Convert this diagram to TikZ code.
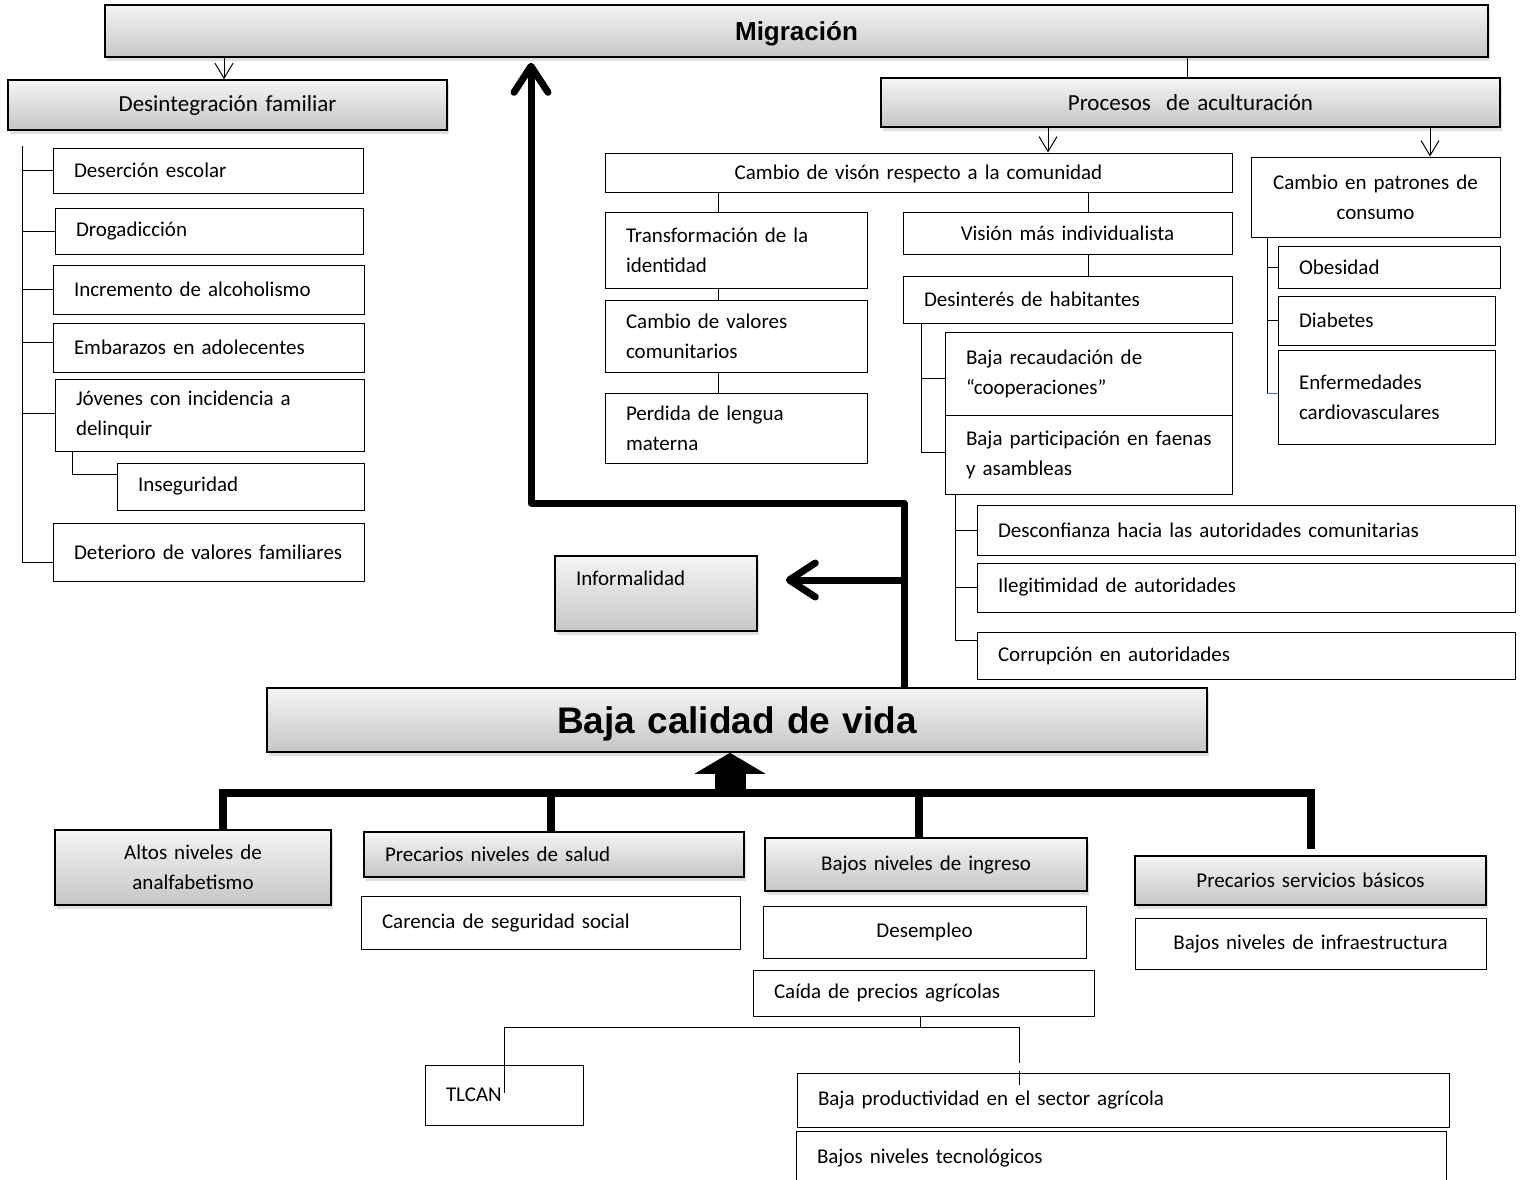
\documentclass[tikz,border=0pt]{standalone}
\usepackage{fontspec}
\setmainfont{Carlito}
\newfontfamily\arialfont{Liberation Sans}
\usetikzlibrary{arrows.meta,shadows,calc}

\newcommand\bx[8][21]{%
  \pgfmathsetmacro\bxw{#6-#4}%
  \pgfmathsetmacro\bxh{#7-#5}%
  \pgfmathsetmacro\bxt{#6-#4-2*#1}%
  \pgfmathsetmacro\bxcx{(#4+#6)/2}%
  \pgfmathsetmacro\bxcy{(#5+#7)/2}%
  \node[#3, inner xsep=#1pt, minimum width=\bxw pt, minimum height=\bxh pt, text width=\bxt pt] (#2) at (\bxcx,\bxcy) {#8};}

\tikzset{
  wbox/.style={draw=black, line width=1pt, fill=white, inner ysep=1pt,
    font=\fontsize{21}{30}\selectfont, align=left},
  gbox/.style={draw=black, line width=1.6pt, top color=gray!8, bottom color=gray!45,
    drop shadow={shadow xshift=1.5pt, shadow yshift=-4pt, opacity=0.25},
    inner ysep=1pt, font=\fontsize{21}{30}\selectfont, align=center},
  hbox/.style={gbox, font=\fontsize{23}{30}\selectfont},
  tbox/.style={gbox, text depth=0pt, font=\arialfont\bfseries\fontsize{26}{30}\selectfont},
  bigbox/.style={gbox, text depth=0pt, font=\arialfont\bfseries\fontsize{37}{40}\selectfont},
  cl/.style={line width=1pt, black},
  thinarrow/.style={cl, -{Straight Barb[length=15pt,width=18pt]}},
  bigarrow/.style={line width=7pt, line join=round, -{Straight Barb[length=26pt,width=34pt,round]}},
  bar/.style={line width=8pt, line join=miter}
}

\begin{document}
\begin{tikzpicture}[x=1pt,y=-1pt]
\useasboundingbox (0,0) rectangle (1523,1179);
\fill[white] (0,0) rectangle (1523,1179);

% top
\bx{mig}{tbox}{105}{5}{1488}{57}{Migración}
\bx{desf}{hbox}{8}{80}{447}{130}{Desintegración familiar}
\bx{proc}{hbox}{881}{78}{1500}{127}{Procesos\ \ de aculturación}

% left column
\bx{deser}{wbox}{53}{148}{363}{193}{Deserción escolar}
\bx{drog}{wbox}{55}{208}{363}{254}{Drogadicción}
\bx{alco}{wbox}{53}{265}{364}{314}{Incremento de alcoholismo}
\bx{emb}{wbox}{53}{323}{364}{372}{Embarazos en adolecentes}
\bx{jov}{wbox}{55}{379}{364}{451}{Jóvenes con incidencia a\\delinquir}
\bx{inseg}{wbox}{117}{463}{364}{510}{Inseguridad}
\bx{deter}{wbox}{53}{523}{364}{581}{Deterioro de valores familiares}

% cambio de vision
\bx{cvis}{wbox,align=center,text depth=0pt}{605}{153}{1232}{192}{Cambio de visón respecto a la comunidad}
\bx{trans}{wbox}{605}{212}{867}{288}{Transformación de la\\identidad}
\bx{valc}{wbox}{605}{300}{867}{372}{Cambio de valores\\comunitarios}
\bx{perd}{wbox}{605}{393}{867}{463}{Perdida de lengua\\materna}
\bx{indiv}{wbox,align=center}{903}{212}{1232}{254}{Visión más individualista}
\bx{desh}{wbox}{903}{276}{1232}{323}{Desinterés de habitantes}
\bx{recau}{wbox}{945}{332}{1232}{415}{Baja recaudación de\\“cooperaciones”}
\bx{parti}{wbox}{945}{415}{1232}{494}{\mbox{Baja participación en faenas}\\y asambleas}
\bx{desc}{wbox}{977}{505}{1515}{555}{Desconfianza hacia las autoridades comunitarias}
\bx{ileg}{wbox}{977}{563}{1515}{612}{Ilegitimidad de autoridades}
\bx{corr}{wbox}{977}{632}{1515}{679}{Corrupción en autoridades}

% patrones
\bx[8]{patr}{wbox,align=center}{1251}{157}{1500}{237}{Cambio en patrones de\\consumo}
\bx{obes}{wbox}{1278}{246}{1500}{288}{Obesidad}
\bx{diab}{wbox}{1278}{296}{1495}{345}{Diabetes}
\bx{enf}{wbox}{1278}{350}{1495}{444}{Enfermedades\\cardiovasculares}

% middle
\bx{info}{gbox,align=left}{555}{556}{757}{631}{Informalidad\\\mbox{}}
\bx[10]{bcv}{bigbox}{267}{688}{1207}{752}{Baja calidad de vida}

% bottom
\bx{altos}{gbox}{55}{830}{331}{905}{Altos niveles de\\analfabetismo}
\bx{psal}{gbox,align=left}{364}{832}{744}{877}{Precarios niveles de salud}
\bx{caren}{wbox}{361}{896}{740}{949}{Carencia de seguridad social}
\bx{bing}{gbox}{765}{838}{1087}{891}{Bajos niveles de ingreso}
\bx{desem}{wbox,align=center}{763}{906}{1086}{958}{Desempleo}
\bx{caida}{wbox}{753}{970}{1094}{1016}{Caída de precios agrícolas}
\bx{tlcan}{wbox}{425}{1065}{583}{1125}{TLCAN}
\bx{bprod}{wbox}{797}{1073}{1449}{1127}{Baja productividad en el sector agrícola}
\bx{btec}{wbox}{796}{1131}{1446}{1184}{Bajos niveles tecnológicos}
\bx{pserv}{gbox}{1135}{856}{1486}{905}{Precarios servicios básicos}
\bx{binf}{wbox,align=center}{1135}{918}{1486}{969}{Bajos niveles de infraestructura}

% --- connectors top
\coordinate (pa) at (224,0);
\coordinate (pb) at (1187,0);
\coordinate (pc) at (1048,0);
\coordinate (pd) at (1430,0);
\draw[thinarrow] (mig.south -| pa) -- (desf.north -| pa);
\draw[cl] (mig.south -| pb) -- (proc.north -| pb);
\draw[thinarrow] (proc.south -| pc) -- (cvis.north -| pc);
\draw[thinarrow] (proc.south -| pd) -- (patr.north -| pd);

% left bracket
\coordinate (lt) at (22,146);
\coordinate (lb) at (22,562);
\coordinate (le) at (22,342);
\coordinate (lj) at (22,413);
\draw[cl] (lt) -- (lb) -- (lb -| deter.west);
\draw[cl] (deser.west -| lt) -- (deser.west);
\draw[cl] (drog.west -| lt) -- (drog.west);
\draw[cl] (alco.west -| lt) -- (alco.west);
\draw[cl] (le) -- (le -| emb.west);
\draw[cl] (lj) -- (lj -| jov.west);
\coordinate (pj) at (72,474);
\draw[cl] (jov.south -| pj) -- (pj) -- (pj -| inseg.west);

% cambio de vision tree
\coordinate (pe) at (718,0);
\coordinate (pf) at (1088,0);
\draw[cl] (cvis.south -| pe) -- (trans.north -| pe);
\draw[cl] (trans.south -| pe) -- (valc.north -| pe);
\draw[cl] (valc.south -| pe) -- (perd.north -| pe);
\draw[cl] (cvis.south -| pf) -- (indiv.north -| pf);
\draw[cl] (indiv.south -| pf) -- (desh.north -| pf);
\coordinate (pg) at (921,452);
\coordinate (pg2) at (921,378);
\draw[cl] (desh.south -| pg) -- (pg) -- (pg -| parti.west);
\draw[cl] (pg2) -- (pg2 -| recau.west);
\coordinate (ph) at (955,640);
\draw[cl] (parti.south -| ph) -- (ph) -- (ph -| corr.west);
\draw[cl] (desc.west -| ph) -- (desc.west);
\draw[cl] (ileg.west -| ph) -- (ileg.west);

% patrones tree
\coordinate (pi) at (1267,393);
\draw[cl] (patr.south -| pi) -- (pi);
\draw[cl] (obes.west -| pi) -- (obes.west);
\draw[cl] (diab.west -| pi) -- (diab.west);
\draw[line width=1pt, color={rgb,255:red,68;green,114;blue,196}] (pi) -- (pi -| enf.west);

% big arrows
\coordinate (u1) at (904,503);
\coordinate (u2) at (531,503);
\coordinate (u3) at (904,580);
\draw[bigarrow, shorten >=5pt] (bcv.north -| u1) -- (u1) -- (u2) -- (mig.south -| u2);
\draw[bigarrow, shorten >=28pt] (u3) -- (u3 -| info.east);

% bottom bar
\coordinate (b1) at (223,793);
\coordinate (b2) at (551,793);
\coordinate (b3) at (919,793);
\coordinate (b4) at (1311,793);
\coordinate (b5) at (730,793);
\draw[bar] (altos.north -| b1) -- (b1) -- (b4) -- ($(pserv.north -| b4)+(0,-6)$);
\draw[bar] (b2) -- (psal.north -| b2);
\draw[bar] (b3) -- (bing.north -| b3);
\draw[line width=31pt] (b5) -- ++(0,-21);
\fill (bcv.south -| b5) -- ++(35.5,21) -- ++(-71,0) -- cycle;

% caida tree
\coordinate (cj) at (920,1027);
\coordinate (t1) at (504,1027);
\coordinate (t2) at (1019,1027);
\draw[cl] (caida.south -| cj) -- (cj);
\draw[cl] ($(tlcan.north -| t1)+(0,28)$) -- (t1) -- (t2) -- ($(bprod.north -| t2)+(0,-10)$);
\draw[cl] ($(bprod.north -| t2)+(0,-2)$) -- ++(0,14);
\end{tikzpicture}
\end{document}
